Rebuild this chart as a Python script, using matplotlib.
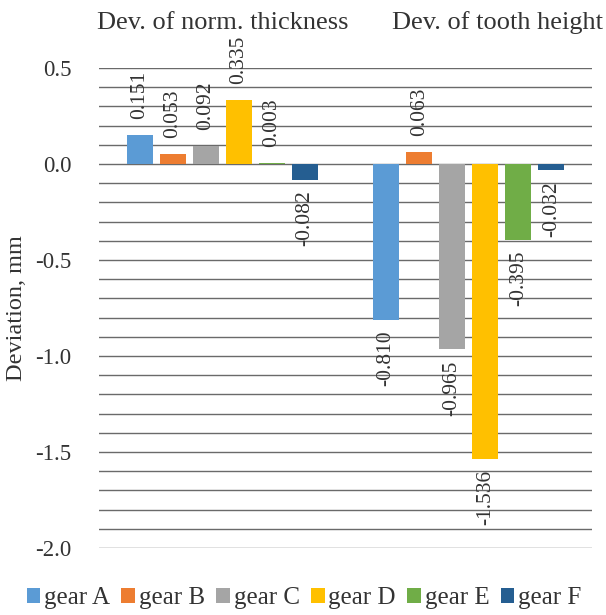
import numpy as np
import matplotlib
matplotlib.use("Agg")
import matplotlib.pyplot as plt
import matplotlib.patches as mpatches
import matplotlib.ticker as mticker

# ── data ──────────────────────────────────────────────────────────────────────
categories = ["Dev. of norm. thickness", "Dev. of tooth height"]
gears = ["gear A", "gear B", "gear C", "gear D", "gear E", "gear F"]
values = {
    "gear A": [0.151, -0.810],
    "gear B": [0.053, 0.063],
    "gear C": [0.092, -0.965],
    "gear D": [0.335, -1.536],
    "gear E": [0.003, -0.395],
    "gear F": [-0.082, -0.032],
}
y_ticks = [0.5, 0.0, -0.5, -1.0, -1.5, -2.0]

COLORS = ["#5B9BD5", "#ED7D31", "#A5A5A5", "#FFC000", "#70AD47", "#255E91"]
TXT = "#333333"
GRID = "#6a6a6a"
FONT = ["Liberation Serif", "DejaVu Serif"]

plt.rcParams["font.family"] = FONT
plt.rcParams["font.size"] = 16.5

fig = plt.figure(figsize=(6.06, 6.15), dpi=100)
ax = fig.add_axes([99 / 606, 1 - 548 / 615, 493 / 606, 480 / 615])

x = np.arange(len(categories))
pitch = 0.1339
width = 0.1055

for i, g in enumerate(gears):
    xs = x + (i - 2.5) * pitch
    vals = values[g]
    ax.bar(xs, vals, width=width, color=COLORS[i], zorder=3)
    for xi, v in zip(xs, vals):
        if v >= 0:
            ax.annotate(f"{v:.3f}", xy=(xi, v), xytext=(0, 16), textcoords="offset pixels",
                        rotation=90, ha="center", va="bottom", color=TXT, fontsize=15.5)
        else:
            ax.annotate(f"{v:.3f}", xy=(xi, v), xytext=(0, -11), textcoords="offset pixels",
                        rotation=90, ha="center", va="top", color=TXT, fontsize=15.5)

ax.set_xlim(-0.5, 1.5)
ax.set_ylim(-2.0, 0.5)
ax.set_yticks(y_ticks)
ax.yaxis.set_major_formatter(mticker.FormatStrFormatter("%.1f"))
ax.yaxis.set_minor_locator(mticker.MultipleLocator(0.1))
ax.grid(True, which="both", axis="y", color=GRID, linewidth=1.0, zorder=0)
ax.set_axisbelow(True)
ax.set_xticks([])
ax.tick_params(axis="y", which="both", length=0, pad=20, colors=TXT, labelsize=16.5)
for s in ax.spines.values():
    s.set_visible(False)

ax.set_ylabel("Deviation, mm", color=TXT, fontsize=17.5, labelpad=6)

# category labels along the top
fig.text(223 / 606, 1 - 23 / 615, categories[0], ha="center", va="center", color=TXT, fontsize=19)
fig.text(497 / 606, 1 - 23 / 615, categories[1], ha="center", va="center", color=TXT, fontsize=19)

handles = [mpatches.Patch(facecolor=c, label=g) for c, g in zip(COLORS, gears)]
fig.legend(handles=handles, loc="center", bbox_to_anchor=(304 / 606, 1 - 598 / 615), ncol=6,
           frameon=False, handlelength=0.55, handleheight=0.55, handletextpad=0.15,
           columnspacing=0.45, labelcolor=TXT, fontsize=18)

fig.savefig("out.png", dpi=100)
